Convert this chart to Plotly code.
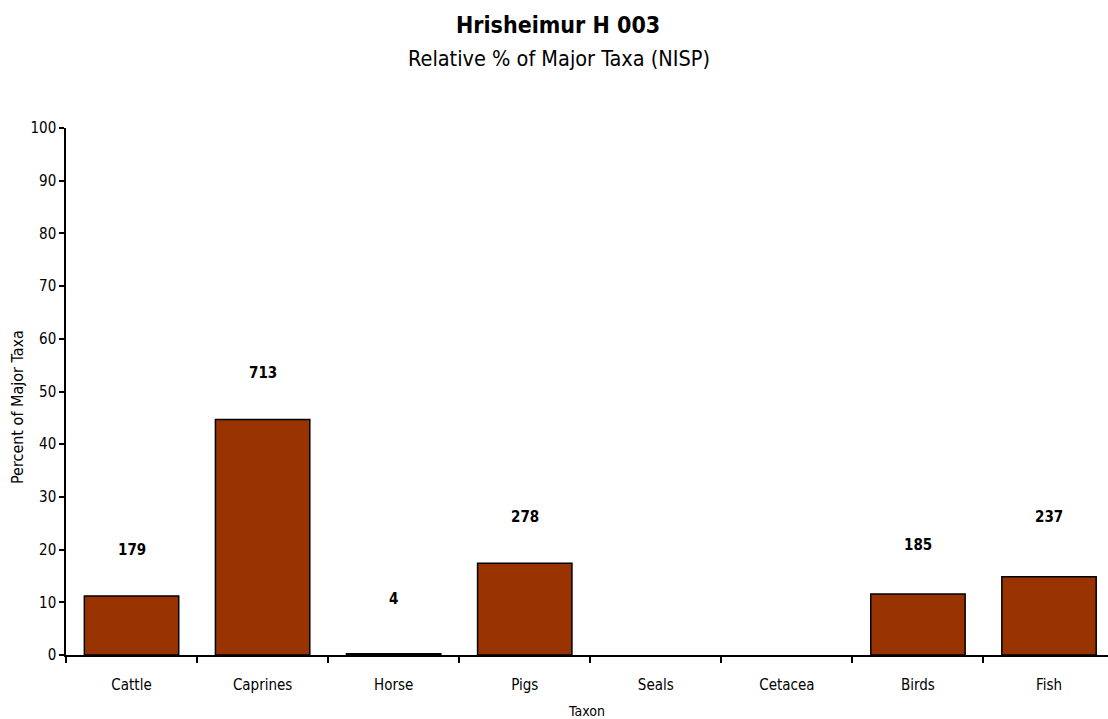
import plotly.graph_objects as go

taxa = ["Cattle", "Caprines", "Horse", "Pigs", "Seals", "Cetacea", "Birds", "Fish"]
nisp = [179, 713, 4, 278, 0, 0, 185, 237]
total = sum(nisp)
percent = [n / total * 100 if n > 0 else None for n in nisp]
label_y = [19.9, 53.5, 10.6, 26.2, None, None, 20.9, 26.2]
label_text = ["179", "713", "4", "278", "", "", "185", "237"]

title_text = "Hrisheimur H 003"
subtitle_text = "Relative % of Major Taxa (NISP)"
y_title = "Percent of Major Taxa"

FONT = "DejaVu Sans Condensed, Liberation Sans Narrow, Arial Narrow, sans-serif"

fig = go.Figure()
fig.add_trace(go.Bar(
    x=taxa, y=percent,
    marker=dict(color="#993300", line=dict(color="black", width=1.5)),
    width=0.72,
))

for t, y, s in zip(taxa, label_y, label_text):
    if y is None:
        continue
    fig.add_annotation(x=t, y=y, text="<b>" + s + "</b>", showarrow=False,
                       font=dict(family=FONT, size=15, color="black"))

fig.add_annotation(xref="paper", yref="paper", x=0.472, y=1.1954, yanchor="middle",
                   text="<b>" + title_text + "</b>", showarrow=False,
                   font=dict(family=FONT, size=23, color="black"))
fig.add_annotation(xref="paper", yref="paper", x=0.473, y=1.1328, yanchor="middle",
                   text=subtitle_text, showarrow=False,
                   font=dict(family=FONT, size=21.5, color="black"))
fig.add_annotation(xref="paper", yref="paper", x=-0.046, y=0.4706, xanchor="center", yanchor="middle",
                   text=y_title, showarrow=False, textangle=-90,
                   font=dict(family=FONT, size=16, color="black"))

fig.update_layout(
    width=1108, height=719,
    paper_bgcolor="white", plot_bgcolor="white",
    margin=dict(l=66, r=0, t=128, b=64),
    font=dict(family=FONT, size=14, color="black"),
    showlegend=False,
    xaxis=dict(
        automargin=False,
        showline=True, linecolor="black", linewidth=1.5,
        ticks="outside", tickson="boundaries", ticklen=6, tickcolor="black", tickwidth=1.5,
        showgrid=False, zeroline=False,
        tickfont=dict(family=FONT, size=15),
        ticklabelstandoff=15,
        title=dict(text="Taxon", font=dict(family=FONT, size=14), standoff=14),
        range=[-0.5, 7.45],
    ),
    yaxis=dict(
        automargin=False,
        range=[0, 100], dtick=10, tick0=0,
        showline=True, linecolor="black", linewidth=1.5,
        ticks="outside", ticklen=5, tickcolor="black", tickwidth=1.5,
        showgrid=False, zeroline=False,
        tickfont=dict(family=FONT, size=15),
    ),
)

fig.write_html("out.html", config={"displayModeBar": False},
               post_script="document.body.style.margin='0';")
